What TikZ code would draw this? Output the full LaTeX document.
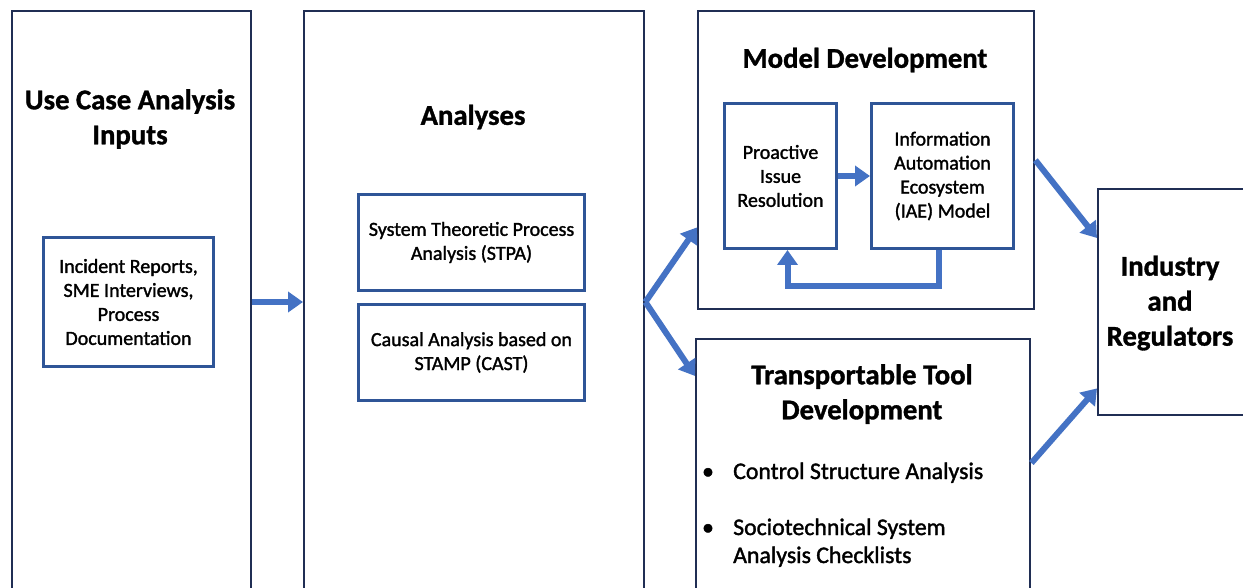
\documentclass[tikz,border=0pt]{standalone}
\usepackage{fontspec}
\setmainfont{Carlito}
\newfontfamily\textheavy{Carlito}[FakeBold=1.5]
\newfontfamily\titleheavy{Carlito Bold}[FakeBold=1.2]
\usetikzlibrary{arrows.meta,calc}
\definecolor{boxline}{RGB}{32,46,84}
\definecolor{innerline}{RGB}{47,85,151}
\definecolor{flow}{RGB}{68,114,196}
\begin{document}
\begin{tikzpicture}[x=1pt,y=-1pt,
  outerbox/.style={draw=boxline,line width=2.4pt,inner sep=0pt,anchor=north west},
  innerbox/.style={draw=innerline,line width=3pt,inner sep=0pt,anchor=north west,
    font=\textheavy\fontsize{20}{24}\selectfont,align=center},
  title/.style={font=\titleheavy\fontsize{28.7}{35}\selectfont,align=center,inner sep=0pt},
  item/.style={font=\textheavy\fontsize{23.8}{28}\selectfont,inner sep=0pt,anchor=base west},
  flowarrow/.style={draw=flow,line width=6pt,-{Triangle[length=15pt,width=20pt]}},
]
\clip (0,0) rectangle (1243,588);
\fill[white] (0,0) rectangle (1243,588);

% main columns
\node[outerbox,minimum width=239pt,minimum height=620pt] (b1) at (11,10) {};
\node[outerbox,minimum width=340pt,minimum height=620pt] (b2) at (303,10) {};
\node[outerbox,minimum width=336pt,minimum height=298pt] (md) at (697,10) {};
\node[outerbox,minimum width=334pt,minimum height=290pt] (tt) at (695,338) {};
\node[outerbox,minimum width=200pt,minimum height=226pt] (ir) at (1097,188) {};

% titles
\node[title] (t1) at (130,119) {Use Case Analysis\\Inputs};
\node[title] (t2) at (473,117) {Analyses};
\node[title] (t3) at (865,60) {Model Development};
\node[title] (t4) at (862,394) {Transportable Tool\\Development};
\node[title] (t5) at (1170,303) {Industry\\and\\Regulators};

% inner boxes
\node[innerbox,minimum width=170pt,minimum height=129pt] (inp) at (42,236)
  {Incident Reports,\\SME Interviews,\\Process\\Documentation};
\node[innerbox,minimum width=226pt,minimum height=96pt] (stpa) at (357,193)
  {System Theoretic Process\\Analysis (STPA)};
\node[innerbox,minimum width=226pt,minimum height=96pt] (cast) at (357,303)
  {Causal Analysis based on\\STAMP (CAST)};
\node[innerbox,minimum width=112pt,minimum height=145pt] (pir) at (723,102)
  {Proactive\\Issue\\Resolution};
\node[innerbox,minimum width=142pt,minimum height=145pt] (iae) at (870,102)
  {Information\\Automation\\Ecosystem\\(IAE) Model};

% bullet list
\node[item,anchor=base] (d1) at (708,479) {\textbullet};
\node[item] (i1) at (733,479) {Control Structure Analysis};
\node[item,anchor=base] (d2) at (708,535) {\textbullet};
\node[item] (i2) at (733,535) {Sociotechnical System};
\node[item] (i2b) at (733,563) {Analysis Checklists};

% flow arrows
\coordinate (fork) at (b2.east |- inp.center);
\draw[flowarrow] (b1.east |- inp.center) -- (b2.west |- inp.center);
\draw[flowarrow] (fork) -- ([yshift=83pt]md.south west);
\draw[flowarrow] (fork) -- ([yshift=-38pt]tt.north west);
\draw[flowarrow] (pir.east) -- (iae.west);
\draw[flowarrow] ([xshift=-4pt]iae.south) -- ++(0,36) -| ([xshift=7pt]pir.south);
\draw[flowarrow] (md.east) -- ([yshift=-50pt]ir.north west);
\draw[flowarrow] ([yshift=-125pt]tt.north east) -- ([yshift=28pt]ir.south west);
\end{tikzpicture}
\end{document}
